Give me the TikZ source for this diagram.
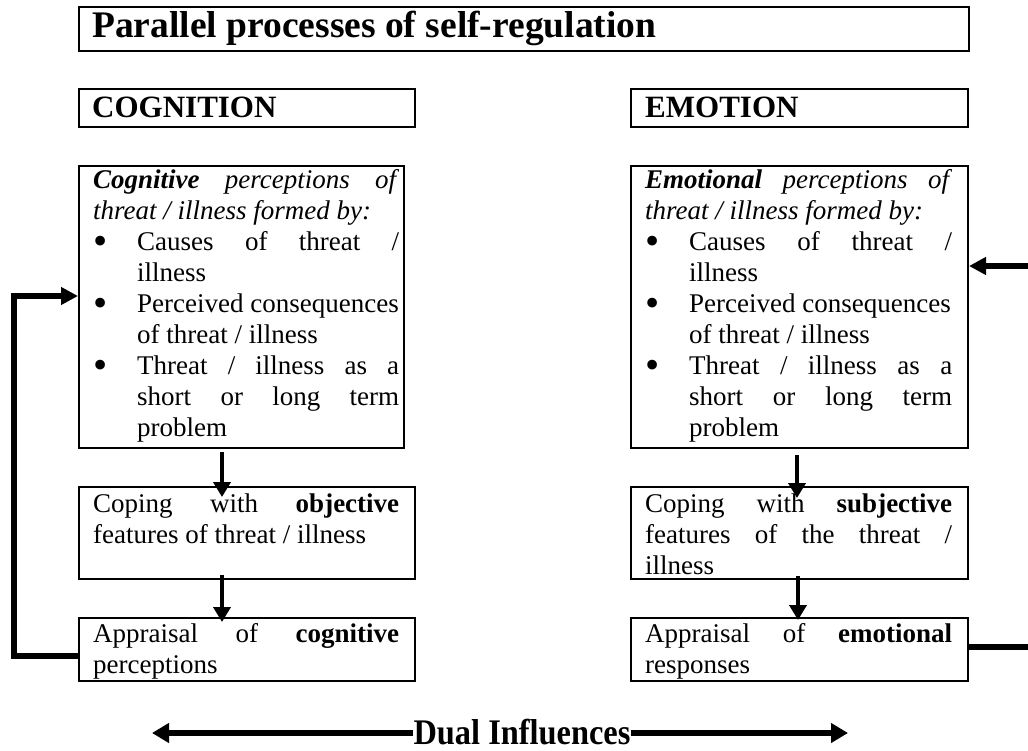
\documentclass[tikz,border=0pt]{standalone}
\usepackage{fontspec}
\setmainfont{Liberation Serif}
\usetikzlibrary{arrows.meta}
\hbadness=10000
\hfuzz=30pt
\newlength\bind
\setlength\bind{44pt}
\newcommand{\Jl}[1]{\makebox[\linewidth][s]{#1}\par}
\newcommand{\Ll}[1]{#1\par}
\newcommand{\bul}{\raisebox{-0.12em}{\scalebox{1.5}{\textbullet}}}
\newcommand{\BJ}[2]{\makebox[\bind][l]{#1}\makebox[\dimexpr\linewidth-\bind\relax][s]{#2}\par}
\newcommand{\BL}[2]{\makebox[\bind][l]{#1}#2\par}
\newcommand{\bodytext}[2]{\parbox[t]{#1}{\setlength\parindent{0pt}\fontsize{27}{31}\selectfont #2}}
\tikzset{
  box/.style={draw, line width=2pt, anchor=north west, inner sep=0pt},
  txt/.style={anchor=base west, inner sep=0pt},
  flow/.style={line width=4pt, -{Triangle[length=15pt,width=17pt]}},
  loopline/.style={line width=5.5pt},
  looparrow/.style={line width=5.5pt, line join=miter, -{Triangle[length=17pt,width=17pt]}},
  dualarrow/.style={line width=6pt, -{Triangle[length=17pt,width=19pt]}},
}
\begin{document}
\begin{tikzpicture}[x=1pt,y=-1pt]
\useasboundingbox (0,0) rectangle (1028,751);
% boxes
\node[box, minimum width=890pt, minimum height=44pt] (title) at (78,6) {};
\node[box, minimum width=336pt, minimum height=38pt] (cogh) at (78,88) {};
\node[box, minimum width=337pt, minimum height=38pt] (emoh) at (630,88) {};
\node[box, minimum width=325pt, minimum height=282pt] (cogp) at (78,165) {};
\node[box, minimum width=337pt, minimum height=282pt] (emop) at (630,165) {};
\node[box, minimum width=336pt, minimum height=92pt] (cogc) at (78,486) {};
\node[box, minimum width=337pt, minimum height=92pt] (emoc) at (630,486) {};
\node[box, minimum width=336pt, minimum height=63pt] (coga) at (78,617) {};
\node[box, minimum width=337pt, minimum height=63pt] (emoa) at (630,617) {};
% texts
\node[txt] (titlet) at (92,38) {\fontsize{37.5}{40}\selectfont\bfseries Parallel processes of self-regulation};
\node[txt] (cogt) at (92,118) {\fontsize{31}{34}\selectfont\bfseries COGNITION};
\node[txt] (emot) at (645,118) {\fontsize{31}{34}\selectfont\bfseries EMOTION};
\node[txt] (cogpt) at (93,189) {\bodytext{306pt}{%
\Jl{\textbf{\textit{Cognitive}} \textit{perceptions of}}
\Ll{\textit{threat / illness formed by:}}
\BJ{\bul}{Causes of threat /}
\BL{}{illness}
\BL{\bul}{Perceived consequences}
\BL{}{of threat / illness}
\BJ{\bul}{Threat / illness as a}
\BJ{}{short or long term}
\BL{}{problem}}};
\node[txt] (emopt) at (645,189) {\bodytext{307pt}{%
\Jl{\textbf{\textit{Emotional}} \textit{perceptions of}}
\Ll{\textit{threat / illness formed by:}}
\BJ{\bul}{Causes of threat /}
\BL{}{illness}
\BL{\bul}{Perceived consequences}
\BL{}{of threat / illness}
\BJ{\bul}{Threat / illness as a}
\BJ{}{short or long term}
\BL{}{problem}}};
\node[txt] (cogct) at (93,512) {\bodytext{306pt}{%
\Jl{Coping with \textbf{objective}}
\Ll{features of threat / illness}}};
\node[txt] (emoct) at (645,512) {\bodytext{307pt}{%
\Jl{Coping with \textbf{subjective}}
\Jl{features of the threat /}
\Ll{illness}}};
\node[txt] (cogat) at (93,642) {\bodytext{306pt}{%
\Jl{Appraisal of \textbf{cognitive}}
\Ll{perceptions}}};
\node[txt] (emoat) at (645,642) {\bodytext{307pt}{%
\Jl{Appraisal of \textbf{emotional}}
\Ll{responses}}};
% down arrows
\draw[flow] ([xshift=144pt,yshift=-3pt]cogp.south west) -- ([xshift=144pt,yshift=-11pt]cogc.north west);
\draw[flow] ([xshift=144pt,yshift=5pt]cogc.south west) -- ([xshift=144pt,yshift=-5pt]coga.north west);
\draw[flow] ([xshift=167pt,yshift=-6pt]emop.south west) -- ([xshift=167pt,yshift=-12pt]emoc.north west);
\draw[flow] ([xshift=168pt,yshift=4pt]emoc.south west) -- ([xshift=168pt,yshift=-3pt]emoa.north west);
% left feedback loop
\coordinate (lc) at (14,296);
\draw[looparrow] ([yshift=-6.5pt]coga.west) -| (lc) -- (cogp.west |- lc);
% right feedback stubs
\coordinate (rtop) at (1032,266);
\coordinate (rbot) at (1032,647);
\draw[loopline] (emoa.east |- rbot) -- (rbot);
\draw[looparrow] (rtop) -- (emop.east |- rtop);
% dual influences
\node[anchor=base, inner sep=0pt] (dual) at (522,744) {\fontsize{36}{38}\selectfont\bfseries\scalebox{0.9}[1]{Dual Influences}};
\coordinate (dl) at (152,733);
\coordinate (dr) at (848,733);
\draw[dualarrow] (dual.west |- dl) -- (dl);
\draw[dualarrow] (dual.east |- dr) -- (dr);
\end{tikzpicture}
\end{document}
